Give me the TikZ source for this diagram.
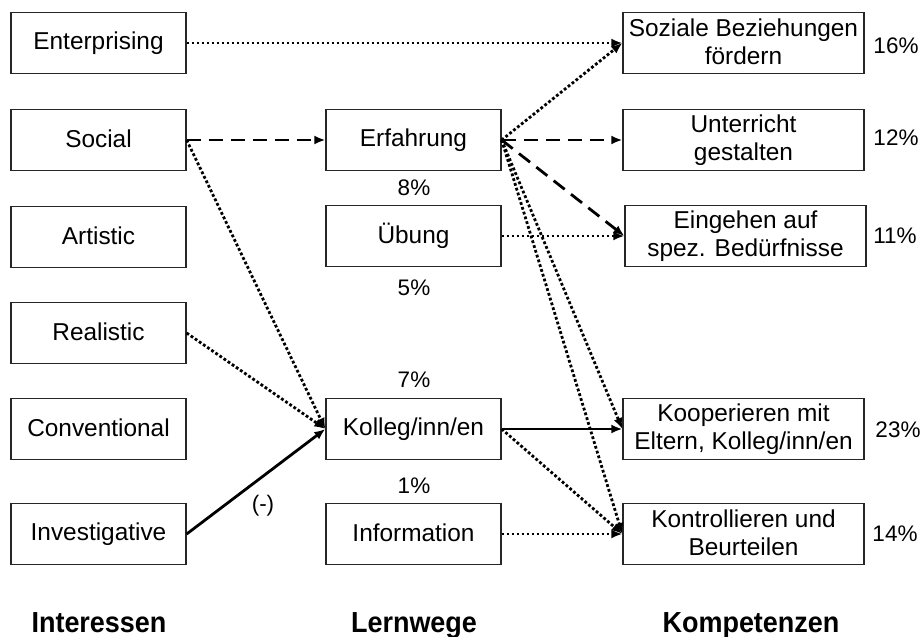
\documentclass[tikz,border=0pt]{standalone}
\usepackage{fontspec}
\setmainfont{Liberation Sans}
\usetikzlibrary{arrows.meta}
\newcommand{\stt}{\rule[-3.5pt]{0pt}{22pt}}
\begin{document}
\begin{tikzpicture}[x=1pt,y=-1pt,
  box/.style={draw=black!85, line width=1.3pt, minimum height=61pt, inner sep=0pt, align=center, font=\fontsize{24.4}{28.5}\selectfont},
  lbox/.style={box, minimum width=175pt},
  rbox/.style={box, minimum width=241pt},
  pct/.style={inner sep=0pt, font=\fontsize{22.5}{26}\selectfont},
  head/.style={inner sep=0pt, anchor=base, font=\fontsize{29}{32}\selectfont\bfseries},
  conn/.style={line width=2.8pt, -{Latex[length=11pt,width=9pt]}},
  dotc/.style={conn, dash pattern=on 2.8pt off 2.2pt},
  dashc/.style={conn, dash pattern=on 14pt off 8pt},
  solc/.style={conn}
]
\useasboundingbox (0,0) rectangle (924,637);
% left column
\node[lbox] (ent) at (98.5,43) {\stt Enterprising};
\node[lbox] (soc) at (98.5,140) {\stt Social};
\node[lbox] (art) at (98.5,237) {\stt Artistic};
\node[lbox] (rea) at (98.5,333) {\stt Realistic};
\node[lbox] (con) at (98.5,429) {\stt Conventional};
\node[lbox] (inv) at (98.5,534) {\stt Investigative};
% middle column
\node[lbox] (erf) at (413.5,140) {\stt Erfahrung};
\node[lbox] (ueb) at (413.5,236) {\stt Übung};
\node[lbox] (kol) at (413.5,429) {\stt Kolleg/inn/en};
\node[lbox] (inf) at (413.5,534) {\stt Information};
% right column
\node[rbox] (soz) at (743.5,43) {\stt Soziale Beziehungen\\\stt fördern};
\node[rbox] (unt) at (743.5,140) {\stt Unterricht\\\stt gestalten};
\node[rbox] (ein) at (745.5,236) {\stt Eingehen auf\\\stt spez. Bedürfnisse};
\node[rbox] (koo) at (743.5,429) {\stt Kooperieren mit\\\stt Eltern, Kolleg/inn/en};
\node[rbox] (kon) at (743.5,534) {\stt Kontrollieren und\\\stt Beurteilen};
% percentages
\node[pct] (p8) at (414,188) {8\%};
\node[pct] (p5) at (414,288) {5\%};
\node[pct] (p7) at (414,380) {7\%};
\node[pct] (p1) at (414,486) {1\%};
\node[pct] (p16) at (896,46) {16\%};
\node[pct] (p12) at (896,138) {12\%};
\node[pct] (p11) at (895,236) {11\%};
\node[pct] (p23) at (898,430) {23\%};
\node[pct] (p14) at (895,534) {14\%};
\node[pct] (neg) at (263,506) {(-)};
% headings
\node[head] (h1) at (99,632.5) {\scalebox{0.93}[1]{Interessen}};
\node[head] (h2) at (414,632.5) {\scalebox{0.93}[1]{Lernwege}};
\node[head] (h3) at (751,632.5) {\scalebox{0.93}[1]{Kompetenzen}};
% connectors
\draw[dotc] (ent.east) -- (soz.west);
\draw[dashc] (soc.east) -- (erf.west);
\draw[dotc] (soc.east) -- (kol.west);
\draw[dotc] (rea.east) -- (kol.west);
\draw[solc] (inv.east) -- (kol.west);
\draw[dotc] (erf.east) -- (soz.west);
\draw[dashc] (erf.east) -- (unt.west);
\draw[dashc] (erf.east) -- (ein.west);
\draw[dotc] (erf.east) -- (koo.west);
\draw[dotc] (erf.east) -- (kon.west);
\draw[dotc] (ueb.east) -- (ein.west);
\draw[solc] (kol.east) -- (koo.west);
\draw[dotc] (kol.east) -- (kon.west);
\draw[dotc] (inf.east) -- (kon.west);
\end{tikzpicture}
\end{document}
